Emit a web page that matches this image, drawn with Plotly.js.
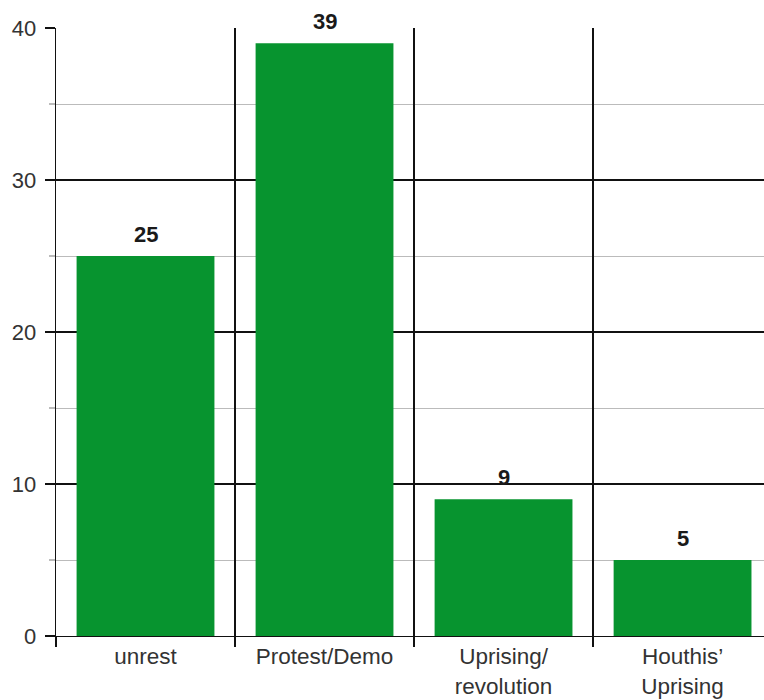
<!DOCTYPE html>
<html>
<head>
<meta charset="utf-8">
<script src="https://cdn.plot.ly/plotly-3.0.1.min.js"></script>
<style>html,body{margin:0;padding:0;background:#fff;}#chart{width:764px;height:700px;}</style>
</head>
<body>
<div id="chart"></div>
<script>
const categories = ["unrest", "Protest/Demo", "Uprising/<br>revolution", "Houthis’<br>Uprising"];
const counts = [25, 39, 9, 5];
const barColor = "#07942f";

const trace = {
  type: "bar",
  x: categories,
  y: counts,
  width: 0.77,
  marker: { color: barColor, line: { width: 0 } },
  hoverinfo: "x+y"
};

const annotations = categories.map((c, i) => ({
  x: c, y: counts[i], xref: "x", yref: "y",
  text: "<b>" + counts[i] + "</b>",
  showarrow: false, yanchor: "bottom", yshift: 7,
  font: { family: "Liberation Sans, Arial, sans-serif", size: 22, color: "#1a1a1a" }
}));

const layout = {
  width: 764, height: 700,
  margin: { l: 56, r: 0, t: 28, b: 64 },
  paper_bgcolor: "#fff", plot_bgcolor: "#fff",
  showlegend: false,
  font: { family: "Liberation Sans, Arial, sans-serif", color: "#333" },
  xaxis: {
    type: "category",
    range: [-0.5, 3.455],
    tickson: "boundaries",
    ticks: "outside", ticklen: 10, tickcolor: "#111", tickwidth: 1.3,
    showgrid: true, gridcolor: "#111", gridwidth: 1.3,
    showline: true, linecolor: "#111", linewidth: 1.3,
    tickfont: { size: 22.5, color: "#333" },
    fixedrange: true
  },
  yaxis: {
    range: [0, 40], dtick: 10, tick0: 0,
    ticks: "outside", ticklen: 10, tickcolor: "#111", tickwidth: 1.3,
    showgrid: true, gridcolor: "#111", gridwidth: 1.3,
    zeroline: false,
    showline: true, linecolor: "#111", linewidth: 1.3,
    tickfont: { size: 22, color: "#333" },
    ticklabelstandoff: 4,
    minor: { dtick: 5, showgrid: true, gridcolor: "#bbbbbb", gridwidth: 1, ticks: "outside", ticklen: 6, tickcolor: "#bbbbbb" },
    fixedrange: true
  },
  annotations: annotations
};

Plotly.newPlot("chart", [trace], layout, { displayModeBar: false, staticPlot: true });
</script>
</body>
</html>
